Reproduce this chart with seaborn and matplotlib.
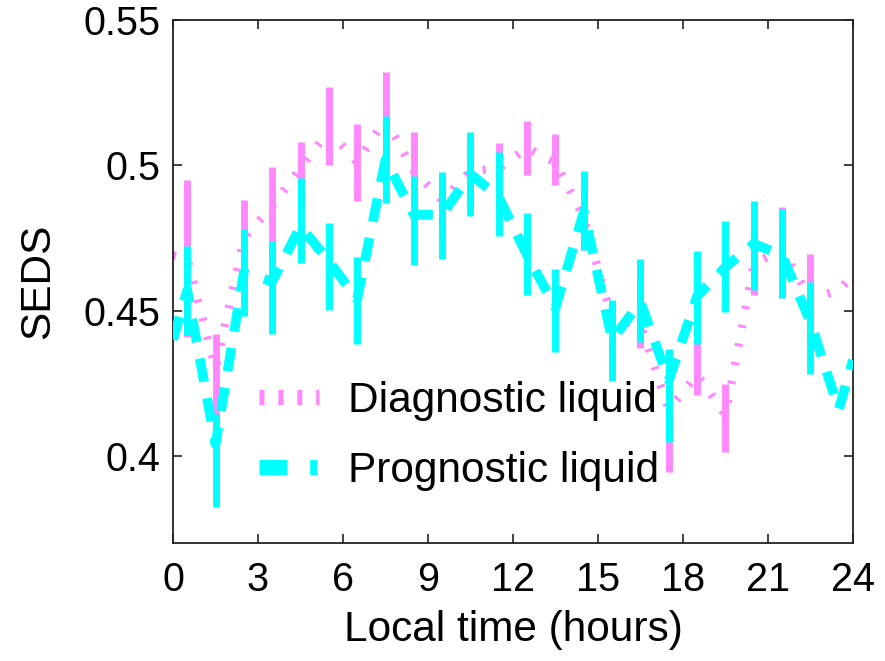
import matplotlib
matplotlib.use("Agg")
import matplotlib.pyplot as plt
from matplotlib.lines import Line2D
import seaborn as sns
import numpy as np

# ---- data ----
hours_bar = [0.5, 1.5, 2.5, 3.5, 4.5, 5.5, 6.5, 7.5, 8.5, 9.5, 10.5, 11.5,
             12.5, 13.5, 14.5, 15.5, 16.5, 17.5, 18.5, 19.5, 20.5, 21.5, 22.5]
diag_mean = [0.468, 0.428, 0.475, 0.484, 0.497, 0.5135, 0.501, 0.516, 0.499,
             0.487, 0.497, 0.497, 0.506, 0.502, 0.481, 0.445, 0.450, 0.415,
             0.432, 0.413, 0.466, 0.470, 0.455]
diag_err = [0.027, 0.014, 0.013, 0.0155, 0.011, 0.0135, 0.0133, 0.016, 0.0125,
            0.010, 0.011, 0.0106, 0.0094, 0.0088, 0.010, 0.008, 0.013, 0.0206,
            0.011, 0.0118, 0.0105, 0.0158, 0.0143]
prog_mean = [0.457, 0.3985, 0.463, 0.458, 0.481, 0.4653, 0.4534, 0.502, 0.481,
             0.4827, 0.497, 0.490, 0.4695, 0.450, 0.4845, 0.4398, 0.4534,
             0.4207, 0.4545, 0.4653, 0.4725, 0.4696, 0.444]
prog_err = [0.0153, 0.016, 0.015, 0.016, 0.0147, 0.015, 0.015, 0.015, 0.0153,
            0.015, 0.0144, 0.0145, 0.014, 0.0143, 0.0135, 0.014, 0.0142, 0.016,
            0.016, 0.0157, 0.0153, 0.0152, 0.016]

hours_line = [0.0, 0.5, 1.5, 2.5, 3.5, 4.5, 5.5, 6.5, 7.5, 8.5, 9.5, 10.5, 11.5,
              12.5, 13.5, 14.5, 15.5, 16.5, 17.5, 18.5, 19.5, 20.5, 21.5,
              22.5, 23.5, 24.0]
diag_line = [0.469, 0.468, 0.430, 0.475, 0.486, 0.499, 0.512, 0.501, 0.516,
             0.498, 0.488, 0.498, 0.499, 0.506, 0.501, 0.482, 0.447, 0.445,
             0.416, 0.428, 0.414, 0.466, 0.471, 0.454, 0.457, 0.462]
prog_line = [0.440, 0.457, 0.404, 0.463, 0.460, 0.479, 0.467, 0.454, 0.502,
             0.483, 0.483, 0.497, 0.489, 0.469, 0.451, 0.484, 0.440, 0.453,
             0.426, 0.455, 0.465, 0.473, 0.469, 0.446, 0.416, 0.433]

x_ticks = [0, 3, 6, 9, 12, 15, 18, 21, 24]
y_ticks = [0.4, 0.45, 0.5, 0.55]
y_tick_labels = ["0.4", "0.45", "0.5", "0.55"]
labels = ["Diagnostic liquid", "Prognostic liquid"]

MAGENTA = "#ff88ff"
CYAN = "#00ffff"

sns.set_theme(style="white")
plt.rcParams["font.family"] = ["Liberation Sans", "DejaVu Sans"]
plt.rcParams["lines.scale_dashes"] = False
plt.rcParams["text.color"] = "black"
plt.rcParams["axes.labelcolor"] = "black"

FS_TICK = 28.5
FS_TEXT = 30.5

fig = plt.figure(figsize=(8.85, 6.61), dpi=100)
ax = fig.add_axes([0.1955, 0.1785, 0.7683, 0.7912])

# diagnostic
sns.lineplot(x=hours_line, y=diag_line, ax=ax, color=MAGENTA, lw=6.0,
             linestyle=(0, (2.2, 11.5)), estimator=None, sort=False, zorder=2)
ax.errorbar(hours_bar, diag_mean, yerr=diag_err, fmt="none", ecolor=MAGENTA,
            elinewidth=5.0, capsize=0, zorder=3)
# prognostic
sns.lineplot(x=hours_line, y=prog_line, ax=ax, color=CYAN, lw=7.0,
             linestyle=(0, (17, 12)), estimator=None, sort=False, zorder=4)
ax.errorbar(hours_bar, prog_mean, yerr=prog_err, fmt="none", ecolor=CYAN,
            elinewidth=5.0, capsize=0, zorder=5)

ax.set_xlim(0, 24)
ax.set_ylim(0.37, 0.55)
ax.set_xticks(x_ticks)
ax.set_xticklabels([str(t) for t in x_ticks])
ax.set_yticks(y_ticks)
ax.set_yticklabels(y_tick_labels)

for s in ax.spines.values():
    s.set_visible(True)
    s.set_color("#222222")
    s.set_linewidth(1.3)

ax.tick_params(axis="both", direction="in", length=6.5, width=1.2,
               color="#222222", labelsize=FS_TICK, labelcolor="black",
               top=True, right=True, bottom=True, left=True)
ax.tick_params(axis="y", pad=9)
ax.tick_params(axis="x", pad=13)

ax.set_xlabel("Local time (hours)", fontsize=FS_TEXT, color="black",
              labelpad=8)
ax.set_ylabel("SEDS", fontsize=FS_TEXT, color="black", labelpad=18)

handles = [
    Line2D([0], [0], color=MAGENTA, lw=11, linestyle=(0, (3.6, 10))),
    Line2D([0], [0], color=CYAN, lw=11, linestyle=(0, (20, 16.5, 5, 16.5))),
]
leg = ax.legend(handles, labels, loc="center left",
                bbox_to_anchor=(0.1265, 0.205), frameon=False,
                fontsize=FS_TEXT, handlelength=1.42, handletextpad=0.68,
                labelspacing=0.72, borderpad=0, borderaxespad=0)
for t in leg.get_texts():
    t.set_color("black")

fig.savefig("out.png", dpi=100)
